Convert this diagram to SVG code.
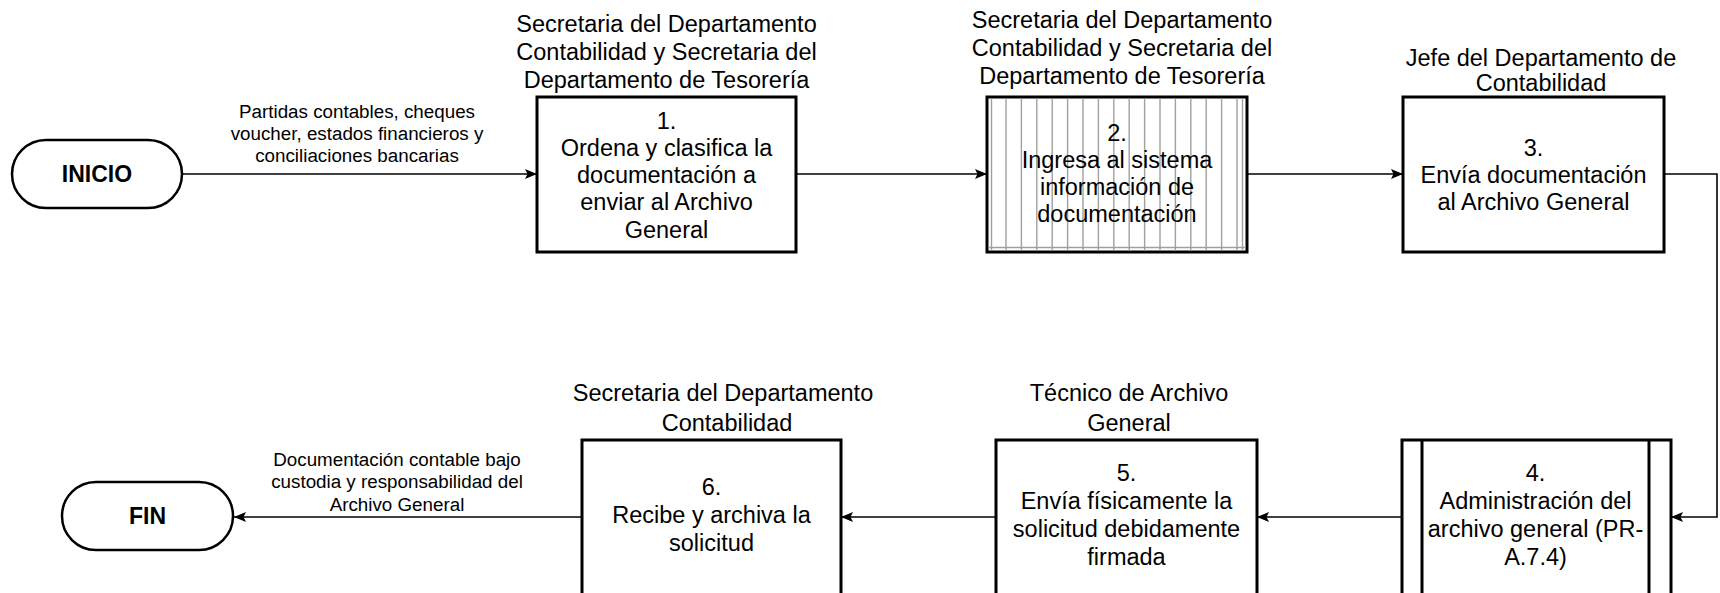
<svg xmlns="http://www.w3.org/2000/svg" width="1720" height="593" viewBox="0 0 1720 593">
<defs>
<marker id="arr" viewBox="0 0 12 10" refX="12" refY="5" markerWidth="12" markerHeight="10" markerUnits="userSpaceOnUse" orient="auto">
<path d="M0,0 L12,5 L0,10 L2.5,5 z" fill="#000"/>
</marker>
<style>
.box{fill:#fff;stroke:#000;stroke-width:3}
.term{fill:#fff;stroke:#000;stroke-width:2.5}
.hatch{stroke:#a0a0a0;stroke-width:1.4}
.inner{stroke:#000;stroke-width:3}
.conn{fill:none;stroke:#000;stroke-width:1.6}
.t{font-family:"Liberation Sans",Arial,sans-serif;font-size:23.5px;fill:#000;text-anchor:middle}
.tb{font-family:"Liberation Sans",Arial,sans-serif;font-size:23px;font-weight:bold;fill:#000;text-anchor:middle}
.lbl{font-family:"Liberation Sans",Arial,sans-serif;font-size:18.8px;fill:#000;text-anchor:middle}
</style>
</defs>
<rect width="1720" height="593" fill="#fff"/>

<g id="connectors">
<path class="conn" d="M182,174 L537,174" marker-end="url(#arr)"/>
<path class="conn" d="M796,174 L987,174" marker-end="url(#arr)"/>
<path class="conn" d="M1247,174 L1403,174" marker-end="url(#arr)"/>
<path class="conn" d="M1664,174 L1717,174 L1717,517 L1671,517" marker-end="url(#arr)"/>
<path class="conn" d="M1402,517 L1257,517" marker-end="url(#arr)"/>
<path class="conn" d="M996,517 L841,517" marker-end="url(#arr)"/>
<path class="conn" d="M582,517 L234,517" marker-end="url(#arr)"/>
<text class="lbl" x="357" y="118">Partidas contables, cheques</text>
<text class="lbl" x="357" y="140">voucher, estados financieros y</text>
<text class="lbl" x="357" y="162">conciliaciones bancarias</text>
<text class="lbl" x="397" y="466">Documentación contable bajo</text>
<text class="lbl" x="397" y="488">custodia y responsabilidad del</text>
<text class="lbl" x="397" y="511">Archivo General</text>
</g>

<g id="inicio">
<rect class="term" x="12" y="140" width="170" height="68" rx="34" ry="34"/>
<text class="tb" x="97" y="182">INICIO</text>
</g>

<g id="fin">
<rect class="term" x="62" y="482" width="171" height="68" rx="34" ry="34"/>
<text class="tb" x="147.5" y="524">FIN</text>
</g>

<g id="n1">
<text class="t" x="666.5" y="32">Secretaria del Departamento</text>
<text class="t" x="666.5" y="60">Contabilidad y Secretaria del</text>
<text class="t" x="666.5" y="88">Departamento de Tesorería</text>
<rect class="box" x="537" y="97" width="259" height="155"/>
<text class="t" x="666.5" y="129">1.</text>
<text class="t" x="666.5" y="156">Ordena y clasifica la</text>
<text class="t" x="666.5" y="183">documentación a</text>
<text class="t" x="666.5" y="210">enviar al Archivo</text>
<text class="t" x="666.5" y="238">General</text>
</g>

<g id="n2">
<text class="t" x="1122" y="28">Secretaria del Departamento</text>
<text class="t" x="1122" y="56">Contabilidad y Secretaria del</text>
<text class="t" x="1122" y="84">Departamento de Tesorería</text>
<rect class="box" x="987" y="97" width="260" height="155"/>
<g class="hatch">
<line x1="991.5" y1="98.5" x2="991.5" y2="250.5"/>
<line x1="1006" y1="98.5" x2="1006" y2="250.5"/>
<line x1="1021.4" y1="98.5" x2="1021.4" y2="250.5"/>
<line x1="1036.8" y1="98.5" x2="1036.8" y2="250.5"/>
<line x1="1052.2" y1="98.5" x2="1052.2" y2="250.5"/>
<line x1="1067.6" y1="98.5" x2="1067.6" y2="250.5"/>
<line x1="1083" y1="98.5" x2="1083" y2="250.5"/>
<line x1="1098.4" y1="98.5" x2="1098.4" y2="250.5"/>
<line x1="1113.8" y1="98.5" x2="1113.8" y2="250.5"/>
<line x1="1129.2" y1="98.5" x2="1129.2" y2="250.5"/>
<line x1="1144.6" y1="98.5" x2="1144.6" y2="250.5"/>
<line x1="1160" y1="98.5" x2="1160" y2="250.5"/>
<line x1="1175.4" y1="98.5" x2="1175.4" y2="250.5"/>
<line x1="1190.8" y1="98.5" x2="1190.8" y2="250.5"/>
<line x1="1206.2" y1="98.5" x2="1206.2" y2="250.5"/>
<line x1="1221.6" y1="98.5" x2="1221.6" y2="250.5"/>
<line x1="1237" y1="98.5" x2="1237" y2="250.5"/>
<line x1="1242.5" y1="98.5" x2="1242.5" y2="250.5"/>
<line x1="988.5" y1="247.5" x2="1245.5" y2="247.5"/>
</g>
<text class="t" x="1117" y="141">2.</text>
<text class="t" x="1117" y="168">Ingresa al sistema</text>
<text class="t" x="1117" y="195">información de</text>
<text class="t" x="1117" y="222">documentación</text>
</g>

<g id="n3">
<text class="t" x="1541" y="66">Jefe del Departamento de</text>
<text class="t" x="1541" y="91">Contabilidad</text>
<rect class="box" x="1403" y="97" width="261" height="155"/>
<text class="t" x="1533.5" y="156">3.</text>
<text class="t" x="1533.5" y="183">Envía documentación</text>
<text class="t" x="1533.5" y="210">al Archivo General</text>
</g>

<g id="n4">
<rect class="box" x="1402" y="440" width="269" height="156"/>
<line class="inner" x1="1422" y1="440" x2="1422" y2="596"/>
<line class="inner" x1="1649" y1="440" x2="1649" y2="596"/>
<text class="t" x="1535.5" y="481">4.</text>
<text class="t" x="1535.5" y="509">Administración del</text>
<text class="t" x="1535.5" y="537">archivo general (PR-</text>
<text class="t" x="1535.5" y="565">A.7.4)</text>
</g>

<g id="n5">
<text class="t" x="1129" y="401">Técnico de Archivo</text>
<text class="t" x="1129" y="431">General</text>
<rect class="box" x="996" y="440" width="261" height="156"/>
<text class="t" x="1126.5" y="481">5.</text>
<text class="t" x="1126.5" y="509">Envía físicamente la</text>
<text class="t" x="1126.5" y="537">solicitud debidamente</text>
<text class="t" x="1126.5" y="565">firmada</text>
</g>

<g id="n6">
<text class="t" x="723" y="401">Secretaria del Departamento</text>
<text class="t" x="727" y="431">Contabilidad</text>
<rect class="box" x="582" y="440" width="259" height="156"/>
<text class="t" x="711.5" y="495">6.</text>
<text class="t" x="711.5" y="523">Recibe y archiva la</text>
<text class="t" x="711.5" y="551">solicitud</text>
</g>
</svg>
